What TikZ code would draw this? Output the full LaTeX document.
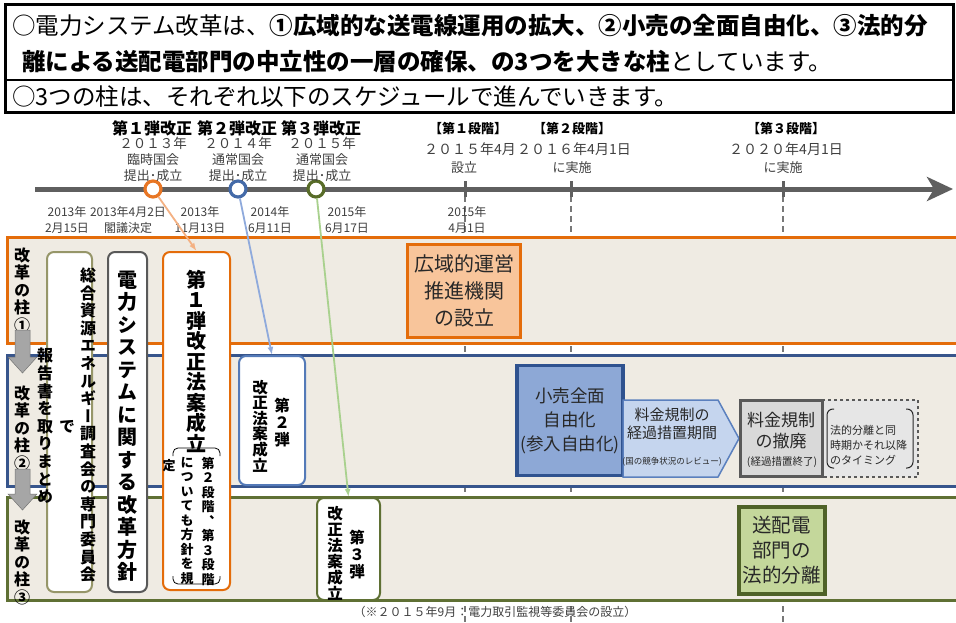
\documentclass[tikz,border=0pt]{standalone}
\usepackage{fontspec}
\setmainfont{Noto Sans CJK JP}
\newfontfamily\tatefont{Noto Sans CJK JP}[RawFeature=+vert]
\usepackage{tikz}
\usetikzlibrary{positioning}
\usetikzlibrary{arrows.meta}

\definecolor{bandbg}{RGB}{239,235,227}
\definecolor{orgline}{RGB}{228,108,10}
\definecolor{bluline}{RGB}{55,85,140}
\definecolor{grnline}{RGB}{95,112,52}
\definecolor{orgdot}{RGB}{232,118,36}
\definecolor{bludot}{RGB}{68,106,168}
\definecolor{grndot}{RGB}{88,108,40}
\definecolor{orglt}{RGB}{244,177,131}
\definecolor{blult}{RGB}{143,170,220}
\definecolor{grnlt}{RGB}{169,209,142}
\definecolor{olvbox}{RGB}{150,150,105}
\definecolor{gryline}{RGB}{89,89,89}
\definecolor{blubox}{RGB}{84,122,184}
\definecolor{orgfill}{RGB}{248,197,155}
\definecolor{bludark}{RGB}{47,82,143}
\definecolor{blufill}{RGB}{141,168,214}
\definecolor{pentline}{RGB}{91,128,190}
\definecolor{pentfill}{RGB}{197,213,238}
\definecolor{grayfill}{RGB}{217,217,217}
\definecolor{ltgray}{RGB}{230,230,230}
\definecolor{grndark}{RGB}{79,98,40}
\definecolor{grnfill}{RGB}{196,215,155}
\definecolor{tlgray}{RGB}{95,95,95}
\definecolor{txtgray}{RGB}{64,64,64}
\definecolor{txtdark}{RGB}{40,40,40}
\definecolor{arrgray}{RGB}{166,166,166}
\definecolor{dashgray}{RGB}{120,120,120}

\tikzset{
  headtxt/.style={anchor=west, inner sep=0pt, font=\fontsize{23.5}{28}\selectfont},
  band/.style={line width=3pt, fill=bandbg},
  milestone/.style={circle, draw, line width=3.2pt, fill=white, minimum size=16pt, inner sep=0pt},
  hit/.style={-{Latex[length=8pt,width=6pt]}, line width=1.8pt},
  tatebox/.style={draw, line width=2pt, rounded corners=7pt, fill=white, inner sep=0pt},
  tate/.style 2 args={align=center, inner sep=0pt, font=\tatefont\bfseries\fontsize{#1}{#2}\selectfont},
  toplbl/.style={inner sep=0pt, text=txtgray, font=\fontsize{13}{14}\selectfont},
  dlabel/.style={align=center, inner sep=0pt, text=txtgray, font=\fontsize{12}{16}\selectfont},
}

\begin{document}
\begin{tikzpicture}[x=1pt,y=-1pt]

\useasboundingbox (0,0) rectangle (956,623);
\clip (0,0) rectangle (956,623);
\fill[white] (0,0) rectangle (956,623);

% ---------- Header ----------
\draw[line width=3pt] (5,5) rectangle (953,113);
\draw[line width=1.5pt] (5,80) -- (953,80);
\node[headtxt] (h1) at (12,26) {○電力システム改革は、\textbf{①広域的な送電線運用の拡大、②小売の全面自由化、③法的分}};
\node[headtxt] (h2) at (22,62) {\textbf{離による送配電部門の中立性の一層の確保、の3つを大きな柱}としています。};
\node[headtxt] (h3) at (12,97) {○3つの柱は、それぞれ以下のスケジュールで進んでいきます。};

% ---------- Guides and pillars ----------
\foreach \x in {465,571,783}
  \draw[dashgray, line width=1.2pt, dash pattern=on 6pt off 4pt] (\x,196) -- (\x,623);

\draw[band, draw=orgline] (7,237) rectangle (962,343);
\draw[band, draw=bluline] (7,355) rectangle (962,486);
\draw[band, draw=grnline] (7,497) rectangle (962,600);

% ---------- Timeline ----------
\draw[line width=5pt, tlgray, -{Stealth[length=26pt,width=24pt,inset=7pt]}] (35,189) -- (953,189);
\foreach \x in {465,571,783}
  \draw[line width=3pt, tlgray] (\x,181) -- (\x,197);

\node[milestone, draw=orgdot] (c1) at (153,189) {};
\node[milestone, draw=bludot] (c2) at (238,189) {};
\node[milestone, draw=grndot] (c3) at (316,189) {};

\node[inner sep=0pt, font=\bfseries\fontsize{16}{18}\selectfont] (kai1) at (152,128) {第１弾改正};
\node[inner sep=0pt, font=\bfseries\fontsize{16}{18}\selectfont] (kai2) at (237,128) {第２弾改正};
\node[inner sep=0pt, font=\bfseries\fontsize{16}{18}\selectfont] (kai3) at (321,128) {第３弾改正};

\foreach \n/\x/\y/\k in {1/153/２０１３年/臨時国会, 2/238/２０１４年/通常国会, 3/322/２０１５年/通常国会}{
  \node[toplbl, font=\fontsize{13.5}{14}\selectfont] (yr\n) at (\x,143) {\y};
  \node[toplbl] (kokkai\n) at (\x,160) {\k};
  \node[toplbl] (seiritsu\n) at (\x,176) {提出･成立};
}

\node[inner sep=0pt, font=\bfseries\fontsize{13}{15}\selectfont] (stage1) at (468,129) {【第１段階】};
\node[inner sep=0pt, font=\bfseries\fontsize{13}{15}\selectfont] (stage2) at (572,129) {【第２段階】};
\node[inner sep=0pt, font=\bfseries\fontsize{13}{15}\selectfont] (stage3) at (786,129) {【第３段階】};
\node[toplbl, font=\fontsize{14}{15}\selectfont] (sdate1) at (470,149) {２０１５年4月};
\node[toplbl, font=\fontsize{14}{15}\selectfont] (sdate2) at (574,149) {２０１６年4月1日};
\node[toplbl, font=\fontsize{14}{15}\selectfont] (sdate3) at (786,149) {２０２０年4月1日};
\node[toplbl] (setsuritsu) at (464,168) {設立};
\node[toplbl] (jisshi2) at (572,168) {に実施};
\node[toplbl] (jisshi3) at (783,168) {に実施};

% dates under the line
\node[dlabel] (d1) at (67,220) {2013年\\2月15日};
\node[dlabel] (d2) at (128,220) {2013年4月2日\\閣議決定};
\node[dlabel] (d3) at (200,220) {2013年\\11月13日};
\node[dlabel] (d4) at (270,220) {2014年\\6月11日};
\node[dlabel] (d5) at (347,220) {2015年\\6月17日};
\node[dlabel] (d6) at (467,220) {2015年\\4月1日};

% ---------- Pillar labels ----------
\node[tate={16}{17.5}] (hashira1) at (22,290) {改\\革\\の\\柱\\①};
\node[tate={16}{17.5}] (hashira2) at (22,428) {改\\革\\の\\柱\\②};
\node[tate={16}{17.5}] (hashira3) at (22,562) {改\\革\\の\\柱\\③};

\filldraw[fill=arrgray, draw=arrgray!70!black, line width=0.5pt]
  (15,330) -- (30,330) -- (30,357) -- (37,357) -- (22.5,373) -- (8,357) -- (15,357) -- cycle;
\filldraw[fill=arrgray, draw=arrgray!70!black, line width=0.5pt]
  (15,469) -- (30,469) -- (30,494) -- (37,494) -- (22.5,510) -- (8,494) -- (15,494) -- cycle;

% ---------- Vertical boxes ----------
\node[tatebox, draw=olvbox, minimum width=45pt, minimum height=340pt] (iinkai) at (69.5,422) {};
\node[tatebox, draw=gryline, minimum width=39pt, minimum height=340pt] (houshin) at (127.5,422) {};
\node[tatebox, draw=orgline, minimum width=67pt, minimum height=338pt] (dan1) at (196.5,421) {};
\node[tatebox, draw=blubox, minimum width=66pt, minimum height=129pt] (dan2) at (272,420.5) {};
\node[tatebox, draw=grnline, minimum width=63pt, minimum height=102pt] (dan3) at (348.5,549) {};

\node[tate={16}{17.6}] (iinkaia) at (88,425) {総\\合\\資\\源\\エ\\ネ\\ル\\ギ\\ー\\調\\査\\会\\の\\専\\門\\委\\員\\会};
\node[tate={16}{17.6}] (iinkaib) at (67,427) {で};
\node[tate={16}{17.6}] (iinkaic) at (45,426) {報\\告\\書\\を\\取\\り\\ま\\と\\め};

\node[tate={20}{22.5}] (houshintxt) at (127.5,426) {電\\力\\シ\\ス\\テ\\ム\\に\\関\\す\\る\\改\\革\\方\\針};

\node[tate={20}{20.5}] (dan1txt) at (196,361) {第\\１\\弾\\改\\正\\法\\案\\成\\立};
\draw[rounded corners=5pt, line width=0.8pt] (173,456) |- (196,448) -| (220,456);
\draw[rounded corners=5pt, line width=0.8pt] (173,576) |- (196,584) -| (220,576);
\node[tate={13}{14.5}] (dan1a) at (208,521) {第\\２\\段\\階\\、\\第\\３\\段\\階};
\node[tate={13}{14.5}] (dan1b) at (187,521) {に\\つ\\い\\て\\も\\方\\針\\を\\規};
\node[tate={13}{14.5}] (dan1c) at (169,466) {定};

\node[tate={15.5}{15.6}] (dan2a) at (260,426) {改\\正\\法\\案\\成\\立};
\node[tate={15.5}{17}] (dan2b) at (282,423) {第\\２\\弾};
\node[tate={15.5}{16}] (dan3a) at (335,553) {改\\正\\法\\案\\成\\立};
\node[tate={15.5}{17}] (dan3b) at (357,555) {第\\３\\弾};

% ---------- Pillar 1 ----------
\node[draw=orgline, fill=orgfill, line width=3.5pt, minimum width=113pt, minimum height=93pt,
  align=center, text=txtdark, font=\fontsize{20}{27}\selectfont] (kouiki) at (464,291) {広域的運営\\推進機関\\の設立};

% ---------- Pillar 2 ----------
\node[draw=bludark, fill=blufill, line width=3.5pt, minimum width=97pt, minimum height=110pt,
  align=center, text=txtdark, font=\fontsize{17.5}{24}\selectfont] (kouri) at (570,420.5) {小売全面\\自由化\\(参入自由化)};

\draw[line width=1.5pt, draw=pentline, fill=pentfill]
  (623,400) -- (718,400) -- (739,438.5) -- (718,477) -- (623,477) -- cycle;
\node[align=center, inner sep=0pt, text=txtdark, font=\fontsize{15}{18}\selectfont] (keika) at (672,424) {料金規制の\\経過措置期間};
\node[inner sep=0pt, text=txtdark, font=\fontsize{8.5}{10}\selectfont] (review) at (672,462) {(国の競争状況のレビュー)};

\draw[dashed, line width=2.5pt, draw=gryline, fill=ltgray] (823,400) rectangle (918,477);
\node[draw=gryline, fill=grayfill, line width=3pt, minimum width=82pt, minimum height=76pt] (teppai) at (781.5,438.5) {};
\node[align=center, inner sep=0pt, text=txtdark, font=\fontsize{17}{21}\selectfont] (teppaitxt) at (781,431) {料金規制\\の撤廃};
\node[inner sep=0pt, text=txtdark, font=\fontsize{10.5}{12}\selectfont] (shuryo) at (782,462) {(経過措置終了)};

\draw[rounded corners=6pt, line width=1pt, txtdark] (834,409) -| (827,468) -- (834,468);
\draw[rounded corners=6pt, line width=1pt, txtdark] (906,409) -| (913,468) -- (906,468);
\node[anchor=west, align=left, inner sep=0pt, text=txtdark, font=\fontsize{11}{15}\selectfont] (doji) at (830,445) {法的分離と同\\時期かそれ以降\\のタイミング};

% ---------- Pillar 3 ----------
\node[draw=grndark, fill=grnfill, line width=4pt, minimum width=86pt, minimum height=87pt,
  align=center, text=txtdark, font=\fontsize{19.5}{25}\selectfont] (bunri) at (781.5,550) {送配電\\部門の\\法的分離};

\node[inner sep=0pt, text=txtgray, font=\fontsize{12}{14}\selectfont] (kanshi) at (495,612) {（※２０１５年9月：電力取引監視等委員会の設立）};

% ---------- Links ----------
\draw[hit, orglt] (c1) -- (dan1.north);
\draw[hit, blult] (c2) -- (dan2.north);
\draw[hit, grnlt] (c3) -- (dan3.north);

\end{tikzpicture}
\end{document}
